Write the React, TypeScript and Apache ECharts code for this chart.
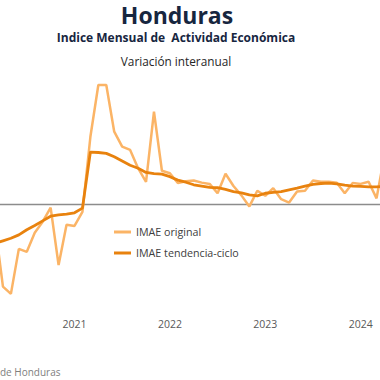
import React, { useEffect, useRef } from "react";
import * as echarts from "echarts";

const months: string[] = [
  "2020-03", "2020-04", "2020-05", "2020-06", "2020-07", "2020-08", "2020-09", "2020-10", "2020-11", "2020-12",
  "2021-01", "2021-02", "2021-03", "2021-04", "2021-05", "2021-06", "2021-07", "2021-08", "2021-09", "2021-10", "2021-11", "2021-12",
  "2022-01", "2022-02", "2022-03", "2022-04", "2022-05", "2022-06", "2022-07", "2022-08", "2022-09", "2022-10", "2022-11", "2022-12",
  "2023-01", "2023-02", "2023-03", "2023-04", "2023-05", "2023-06", "2023-07", "2023-08", "2023-09", "2023-10", "2023-11", "2023-12",
  "2024-01", "2024-02", "2024-03", "2024-04",
];

const imaeOriginal: number[] = [
  -4.9, -19.5, -21.2, -10.6, -11.3, -6.8, -4.2, -0.9, -14.4, -4.9,
  -5.2, -1.9, 15.8, 28.0, 28.0, 17.0, 13.5, 12.7, 8.4, 5.2, 21.7, 7.8,
  7.2, 4.9, 5.3, 5.5, 5.0, 4.7, 2.5, 7.1, 4.2, 2.0, -0.6, 3.1,
  1.9, 3.7, 1.1, 0.3, 2.9, 3.1, 5.5, 5.2, 5.2, 5.0, 2.5, 4.9,
  4.7, 5.2, 1.3, 11.5,
];

const imaeTendencia: number[] = [
  -9.3, -8.7, -8.1, -7.3, -6.1, -5.1, -4.0, -2.9, -2.6, -2.4,
  -2.1, -1.0, 12.2, 12.1, 11.9, 11.1, 10.1, 9.1, 8.4, 7.4, 7.1, 7.0,
  6.4, 5.6, 5.1, 4.5, 4.2, 3.9, 3.8, 3.4, 2.9, 2.6, 2.1, 1.9,
  2.5, 2.7, 2.9, 3.3, 3.7, 4.2, 4.6, 4.8, 4.9, 4.7, 4.4, 4.2,
  4.1, 4.0, 4.0, 4.1,
];

const seriesNames = ["IMAE original", "IMAE tendencia-ciclo"];
const titleText = "Honduras";
const subtitleText = "Indice Mensual de  Actividad Económica";
const subsubText = "Variación interanual";
const sourceText = "de Honduras";

const FONT = "'Open Sans', 'Noto Sans', sans-serif";
// chart canvas is shifted 5px to the left of the visible frame
const OFF = 5;

export default function App() {
  const ref = useRef<HTMLDivElement>(null);
  useEffect(() => {
    document.body.style.margin = "0";
    const chart = echarts.init(ref.current!, null, { renderer: "svg" });
    chart.setOption({
      animation: false,
      backgroundColor: "#ffffff",
      grid: { left: 0, right: 0.5, top: 76.5, bottom: 70, containLabel: false },
      xAxis: {
        type: "category",
        data: months,
        boundaryGap: false,
        axisLine: { show: false },
        axisTick: { show: false },
        splitLine: { show: false },
        axisLabel: {
          interval: (_i: number, v: string) => v.endsWith("-01"),
          formatter: (v: string) => v.slice(0, 4),
          color: "#595959",
          fontFamily: FONT,
          fontSize: 10.5,
          margin: 8,
        },
      },
      yAxis: {
        type: "value",
        min: -25,
        max: 30,
        show: false,
        splitLine: { show: false },
      },
      legend: {
        orient: "vertical",
        left: 114 + OFF,
        top: 225,
        padding: 0,
        itemWidth: 17,
        itemHeight: 3,
        itemGap: 7,
        icon: "rect",
        data: seriesNames,
        textStyle: { color: "#404040", fontFamily: FONT, fontSize: 10.7, lineHeight: 14 },
      },
      graphic: [
        {
          type: "text",
          x: 177 + OFF,
          y: 15,
          style: {
            text: titleText,
            font: `bold 23px ${FONT}`,
            lineHeight: 24,
            fill: "#17263f",
            textAlign: "center",
            textVerticalAlign: "middle",
          },
        },
        {
          type: "text",
          x: 176 + OFF,
          y: 37,
          style: {
            text: subtitleText,
            font: `bold 12px ${FONT}`,
            fill: "#17263f",
            textAlign: "center",
            textVerticalAlign: "middle",
          },
        },
        {
          type: "text",
          x: 176 + OFF,
          y: 61,
          style: {
            text: subsubText,
            font: `11.8px ${FONT}`,
            fill: "#262626",
            textAlign: "center",
            textVerticalAlign: "middle",
          },
        },
        {
          type: "text",
          x: 0 + OFF,
          y: 372,
          style: {
            text: sourceText,
            font: `10px ${FONT}`,
            fill: "#808080",
            textAlign: "left",
            textVerticalAlign: "middle",
          },
        },
      ],
      series: [
        {
          name: seriesNames[0],
          type: "line",
          data: imaeOriginal,
          showSymbol: false,
          symbol: "none",
          lineStyle: { color: "#FBB466", width: 2.5 },
          itemStyle: { color: "#FBB466" },
          z: 3,
          markLine: {
            silent: true,
            symbol: ["none", "none"],
            label: { show: false },
            lineStyle: { color: "#8c8c8c", width: 1.3, type: "solid" },
            data: [{ yAxis: 0 }],
            z: 1,
          },
        },
        {
          name: seriesNames[1],
          type: "line",
          data: imaeTendencia,
          showSymbol: false,
          symbol: "none",
          lineStyle: { color: "#E8820E", width: 2.8 },
          itemStyle: { color: "#E8820E" },
          z: 4,
        },
      ],
    });
    return () => chart.dispose();
  }, []);
  return (
    <div style={{ position: "relative", width: 380, height: 380, overflow: "hidden" }}>
      <div ref={ref} style={{ position: "absolute", left: -OFF, top: 0, width: 390, height: 380 }} />
    </div>
  );
}
